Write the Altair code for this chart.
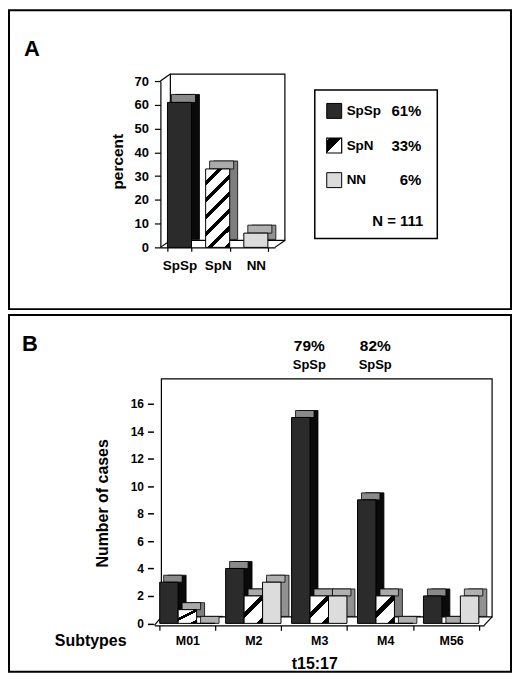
import altair as alt
import pandas as pd

FONT = "Liberation Sans"

# ---------------- Panel A data ----------------
a_cats = ["SpSp", "SpN", "NN"]
a_pct = [61, 33, 6]
a_pct_text = ["61%", "33%", "6%"]
a_n_text = ["N = 111"]
a_yticks = [0, 10, 20, 30, 40, 50, 60, 70]

# ---------------- Panel B data ----------------
b_subtypes = ["M01", "M2", "M3", "M4", "M56"]
b_spsp = [3, 4, 15, 9, 2]
b_spn = [1, 2, 2, 2, 0]
b_nn = [0, 3, 2, 0, 2]
b_ann_subtypes = ["M3", "M4"]
b_ann_pct = ["79%", "82%"]
b_ann_group = ["SpSp", "SpSp"]
b_yticks = [0, 2, 4, 6, 8, 10, 12, 14, 16]

# ---------------- styles ----------------
front_colors = ["#2b2b2b", "#ffffff", "#dcdcdc"]
side_colors = ["#0a0a0a", "#7e7e7e", "#929292"]
top_colors = ["#8a8a8a", "#aaaaaa", "#b0b0b0"]


def stripes(n, frac, w, h):
    # diagonal "/" stripes at 45 degrees for a box of size w x h (bounding-box units)
    k = (w + h) / (w * w + h * h)
    stops = []
    for i in range(n):
        a = i / n
        m = (i + 1 - frac) / n
        b = (i + 1) / n
        stops += [
            {"offset": round(a, 4), "color": "#ffffff"},
            {"offset": round(m, 4), "color": "#ffffff"},
            {"offset": round(m, 4), "color": "#000000"},
            {"offset": round(b, 4), "color": "#000000"},
        ]
    return {"gradient": "linear", "stops": stops, "x1": 0, "y1": 0,
            "x2": round(k * w, 4), "y2": round(k * h, 4)}


swatch_grad = {"gradient": "linear", "x1": 0, "y1": 0, "x2": 1, "y2": 1,
               "stops": [{"offset": 0, "color": "#ffffff"}, {"offset": 0.1, "color": "#ffffff"},
                         {"offset": 0.1, "color": "#000000"}, {"offset": 0.5, "color": "#000000"},
                         {"offset": 0.5, "color": "#ffffff"}, {"offset": 1, "color": "#ffffff"}]}

one = pd.DataFrame({"k": [0]})


def seg(x1, y1, x2, y2, w=1.2):
    return alt.Chart(one).mark_rule(color="black", strokeWidth=w).encode(
        x=alt.value(x1), y=alt.value(y1), x2=alt.value(x2), y2=alt.value(y2))


def box(x1, y1, x2, y2, w=1.2):
    return alt.Chart(one).mark_rect(fill="white", stroke="black", strokeWidth=w).encode(
        x=alt.value(x1), y=alt.value(y1), x2=alt.value(x2), y2=alt.value(y2))


def label(txt, x, y, size, align="center", angle=0, weight="bold"):
    return alt.Chart(one).mark_text(text=txt, font=FONT, fontSize=size, fontWeight=weight,
                                    align=align, baseline="middle", angle=angle, color="black").encode(
        x=alt.value(x), y=alt.value(y))


def col(rng):
    return alt.Color("cat:N", scale=alt.Scale(domain=a_cats, range=rng), legend=None)


# ================= Panel A =================
dfA = pd.DataFrame({"cat": a_cats, "value": a_pct, "pct": a_pct_text})
dfN = pd.DataFrame({"txt": a_n_text})

xA = alt.X("cat:N", sort=a_cats, title=None,
           scale=alt.Scale(domain=a_cats, range=[152, 267], paddingInner=0.37, paddingOuter=0.185),
           axis=alt.Axis(orient="bottom", offset=-62, labelAngle=0, tickBand="extent", tickSize=4,
                         labelPadding=7, labelFontSize=13.5, domainWidth=1.2, tickWidth=1.2))
yA_s = alt.Scale(domain=[0, 70], range=[238, 71])
yA_axis = alt.Axis(values=a_yticks, offset=-152, tickSize=6, labelPadding=6, labelFontSize=13,
                   domainWidth=1.2, tickWidth=1.2, grid=False)


def yA(axis=None):
    return alt.Y("value:Q", scale=yA_s, axis=axis, title=None)


dA = 8
sideA = alt.Chart(dfA).mark_bar(stroke="black", strokeWidth=0.8, xOffset=dA, x2Offset=dA,
                                yOffset=-dA, y2Offset=-dA).encode(x=xA, y=yA(), color=col(side_colors))
topA = alt.Chart(dfA).mark_bar(stroke="black", strokeWidth=0.8, xOffset=dA / 2, x2Offset=dA / 2,
                               yOffset=-dA).encode(x=xA, y=yA(), y2=alt.Y2("value:Q"), color=col(top_colors))
frontA = alt.Chart(dfA).transform_filter(alt.datum.cat != "SpN").mark_bar(
    stroke="black", strokeWidth=1).encode(x=xA, y=yA(yA_axis), color=col(front_colors))
frontA_spn = alt.Chart(dfA).transform_filter(alt.datum.cat == "SpN").mark_bar(
    stroke="black", strokeWidth=1, fill=stripes(6, 0.3, 24, 79)).encode(x=xA, y=yA())

legY = alt.Y("cat:N", sort=a_cats, scale=alt.Scale(domain=a_cats, range=[101, 170.5], padding=0),
             axis=None, title=None)
leg_sw = alt.Chart(dfA).transform_filter(alt.datum.cat != "SpN").mark_square(
    size=225, opacity=1, stroke="black", strokeWidth=1).encode(
    x=alt.value(326.5), y=legY, color=col(front_colors))
leg_sw_spn = alt.Chart(dfA).transform_filter(alt.datum.cat == "SpN").mark_square(
    size=225, opacity=1, stroke="black", strokeWidth=1.2, fill=swatch_grad).encode(
    x=alt.value(326.5), y=legY)
leg_lab = alt.Chart(dfA).mark_text(font=FONT, fontSize=13.5, fontWeight="bold", align="left",
                                   baseline="middle", color="black").encode(
    x=alt.value(339), y=legY, text="cat:N")
leg_pct = alt.Chart(dfA).mark_text(font=FONT, fontSize=15, fontWeight="bold", align="right",
                                   baseline="middle", color="black").encode(
    x=alt.value(414), y=legY, text="pct:N")
leg_n = alt.Chart(dfN).mark_text(font=FONT, fontSize=15, fontWeight="bold", align="right",
                                 baseline="middle", color="black").encode(
    x=alt.value(416), y=alt.value(212), text="txt:N")

panelA = alt.layer(
    box(162, 64, 277, 231),
    seg(152, 71, 162, 64), seg(152, 238, 162, 231), seg(267, 238, 277, 231),
    sideA, topA, frontA, frontA_spn,
    box(307, 80, 430, 229, 1.5), leg_sw, leg_sw_spn, leg_lab, leg_pct, leg_n,
    label("A", 23, 39, 22),
    label("percent", 109, 152, 15.5, angle=270),
).resolve_scale(y="independent", color="independent").properties(width=504, height=300)

# ================= Panel B =================
rows = []
for i, s in enumerate(b_subtypes):
    for c, vals in zip(a_cats, [b_spsp, b_spn, b_nn]):
        rows.append({"subtype": s, "cat": c, "value": vals[i]})
dfB = pd.DataFrame(rows)
dfAnn = pd.DataFrame({"subtype": b_ann_subtypes, "pct": b_ann_pct, "grp": b_ann_group})

xB = alt.X("subtype:N", sort=b_subtypes, title=None,
           scale=alt.Scale(domain=b_subtypes, range=[146, 477], paddingInner=0.16, paddingOuter=0.08),
           axis=alt.Axis(orient="bottom", offset=-46.5, labelAngle=0, tickBand="extent", tickSize=5,
                         labelPadding=4, labelFontSize=12.5, domainWidth=1.2, tickWidth=1.2))
BW = 55.6  # group band width in pixels


def offB(shift):
    return alt.XOffset("cat:N", sort=a_cats,
                       scale=alt.Scale(domain=a_cats, range=[shift, BW + shift], paddingInner=0, paddingOuter=0))


yB_s = alt.Scale(domain=[0, 16], range=[309.5, 89])
yB_axis = alt.Axis(values=b_yticks, offset=-145, tickSize=6, labelPadding=4, labelFontSize=12,
                   domain=False, tickWidth=1.5, grid=False)


def yB(axis=None):
    return alt.Y("value:Q", scale=yB_s, axis=axis, title=None)


dxB, dyB = 8, 7
sideB = alt.Chart(dfB).mark_bar(stroke="black", strokeWidth=0.8,
                                yOffset=-dyB, y2Offset=-dyB).encode(
    x=xB, xOffset=offB(dxB), y=yB(), color=col(side_colors))
topB = alt.Chart(dfB).mark_bar(stroke="black", strokeWidth=0.8, yOffset=-dyB).encode(
    x=xB, xOffset=offB(dxB / 2), y=yB(), y2=alt.Y2("value:Q"), color=col(top_colors))
frontB = alt.Chart(dfB).transform_filter(alt.datum.cat != "SpN").mark_bar(
    stroke="black", strokeWidth=1).encode(x=xB, xOffset=offB(0), y=yB(yB_axis), color=col(front_colors))
frontB_spn = alt.Chart(dfB).transform_filter(alt.datum.cat == "SpN").mark_bar(
    stroke="black", strokeWidth=1, fill=stripes(2, 0.3, 18.5, 27.5)).encode(
    x=xB, xOffset=offB(0), y=yB())

ann_pct = alt.Chart(dfAnn).mark_text(font=FONT, fontSize=15.5, fontWeight="bold", baseline="middle",
                                     color="black", dx=-10).encode(x=xB, y=alt.value(31), text="pct:N")
ann_grp = alt.Chart(dfAnn).mark_text(font=FONT, fontSize=13, fontWeight="bold", baseline="middle",
                                     color="black", dx=-10).encode(x=xB, y=alt.value(50.5), text="grp:N")

panelB = alt.layer(
    box(153, 64, 485, 303),
    seg(146, 311.5, 153, 303), seg(477, 311.5, 485, 303),
    sideB, topB, frontB, frontB_spn,
    ann_pct, ann_grp,
    label("B", 21, 29, 22),
    label("Number of cases", 94, 189, 16, angle=270),
    label("Subtypes", 82, 327, 16),
    label("t15:17", 307, 350, 16),
).resolve_scale(y="independent", color="independent", xOffset="independent").properties(width=504, height=358)

chart = alt.vconcat(panelA, panelB, spacing=4).properties(padding=0).configure_view(
    stroke="black", strokeWidth=2
).configure_axis(
    labelFont=FONT, labelFontWeight="bold", labelColor="black", domainColor="black", tickColor="black",
    grid=False
)

chart.save("out.html", embed_options={"renderer": "svg", "actions": False})
